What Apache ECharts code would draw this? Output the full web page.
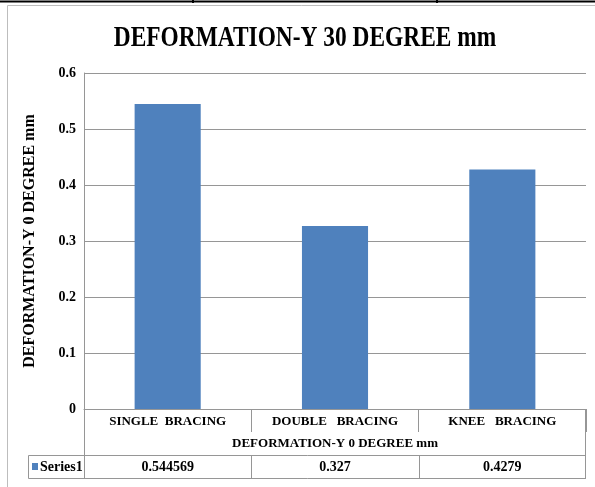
<!DOCTYPE html>
<html>
<head>
<meta charset="utf-8">
<script src="https://cdn.jsdelivr.net/npm/echarts@6/dist/echarts.min.js"></script>
<style>
  html, body { margin: 0; padding: 0; background: #fff; }
  #chart { width: 595px; height: 487px; }
</style>
</head>
<body>
<div id="chart"></div>
<script>
// chart data
const categories = ['SINGLE  BRACING', 'DOUBLE   BRACING', 'KNEE   BRACING']
const series1 = [0.544569, 0.327, 0.4279]
const seriesName = 'Series1'
const titleText = 'DEFORMATION-Y 30 DEGREE mm'
const xName = 'DEFORMATION-Y 0 DEGREE mm'
const yName = 'DEFORMATION-Y 0 DEGREE mm'

const FONT = 'Liberation Serif'
const BLUE = '#4F81BD'
const LINE = '#969696'
const grid = { left: 84, right: 9, top: 73, bottom: 78 }

const chart = echarts.init(document.getElementById('chart'))

const option = {
  backgroundColor: '#fff',
  animation: false,
  grid: grid,
  xAxis: {
    type: 'category',
    data: categories,
    axisLine: { lineStyle: { color: LINE, width: 1 } },
    axisTick: { show: true, length: 23, interval: 0, lineStyle: { color: LINE } },
    axisLabel: {
      interval: 0,
      margin: 6,
      color: '#000',
      fontFamily: FONT,
      fontWeight: 'bold',
      fontSize: 13
    },
    name: xName,
    nameLocation: 'middle',
    nameGap: 28,
    nameTextStyle: { color: '#000', fontFamily: FONT, fontWeight: 'bold', fontSize: 13 }
  },
  yAxis: {
    type: 'value',
    min: 0,
    max: 0.6,
    interval: 0.1,
    axisLine: { show: true, lineStyle: { color: LINE, width: 1 } },
    axisTick: { show: false },
    splitLine: { lineStyle: { color: LINE, width: 1 } },
    axisLabel: {
      margin: 8,
      color: '#000',
      fontFamily: FONT,
      fontWeight: 'bold',
      fontSize: 14
    },
    name: yName,
    nameLocation: 'middle',
    nameGap: 46,
    nameTextStyle: { color: '#000', fontFamily: FONT, fontWeight: 'bold', fontSize: 16 }
  },
  series: [{
    name: seriesName,
    type: 'bar',
    data: series1,
    barWidth: '39.5%',
    itemStyle: { color: BLUE }
  }]
}
chart.setOption(option)

// data table + frame drawn under the axis
const x0 = grid.left, x1 = 595 - grid.right
const yAxisBottom = 487 - grid.bottom
const rowTop = 455.5, rowBot = 478.5
const keyLeft = 28.5
const els = []
const line = (xa, ya, xb, yb, color, w) => els.push({
  type: 'line', silent: true,
  shape: { x1: xa, y1: ya, x2: xb, y2: yb },
  style: { stroke: color || LINE, lineWidth: w || 1 }
})

// outer page / chart frame
line(0, 1.5, 595, 1.5, '#000', 2)
line(193, 0, 193, 3, '#000', 2)
line(437, 0, 437, 3, '#000', 2)
line(7.5, 5.5, 7.5, 487, '#bdbdbd', 1)
line(7.5, 5.5, 595, 5.5, '#bdbdbd', 1)

// table grid
line(x0 + 0.5, yAxisBottom, x0 + 0.5, rowBot)
line(x1 - 0.5, yAxisBottom, x1 - 0.5, rowBot)
line(keyLeft, rowTop, x1, rowTop)
line(keyLeft, rowBot, x1, rowBot)
line(keyLeft, rowTop, keyLeft, rowBot)

const pxs = categories.map(c => chart.convertToPixel({ xAxisIndex: 0 }, c))
const half = (pxs[1] - pxs[0]) / 2
for (let i = 1; i < categories.length; i++) {
  const bx = Math.round(pxs[i] - half) + 0.5
  line(bx, rowTop, bx, rowBot)
}
series1.forEach((v, i) => {
  els.push({
    type: 'text', silent: true, x: pxs[i], y: (rowTop + rowBot) / 2,
    style: {
      text: String(v), fill: '#000', font: 'bold 14px ' + FONT,
      textAlign: 'center', textVerticalAlign: 'middle'
    }
  })
})
els.push({ type: 'rect', silent: true, shape: { x: 32, y: 463, width: 6, height: 7 }, style: { fill: BLUE } })
els.push({
  type: 'text', silent: true, x: 40, y: (rowTop + rowBot) / 2,
  style: { text: seriesName, fill: '#000', font: 'bold 14px ' + FONT, textAlign: 'left', textVerticalAlign: 'middle' }
})

// title, squeezed like the original narrow face
els.push({
  type: 'text', silent: true, x: 305, y: 38, scaleX: 0.78,
  style: { text: titleText, fill: '#000', font: 'bold 30px ' + FONT, textAlign: 'center', textVerticalAlign: 'middle' }
})

chart.setOption({ graphic: { elements: els } })
</script>
</body>
</html>
